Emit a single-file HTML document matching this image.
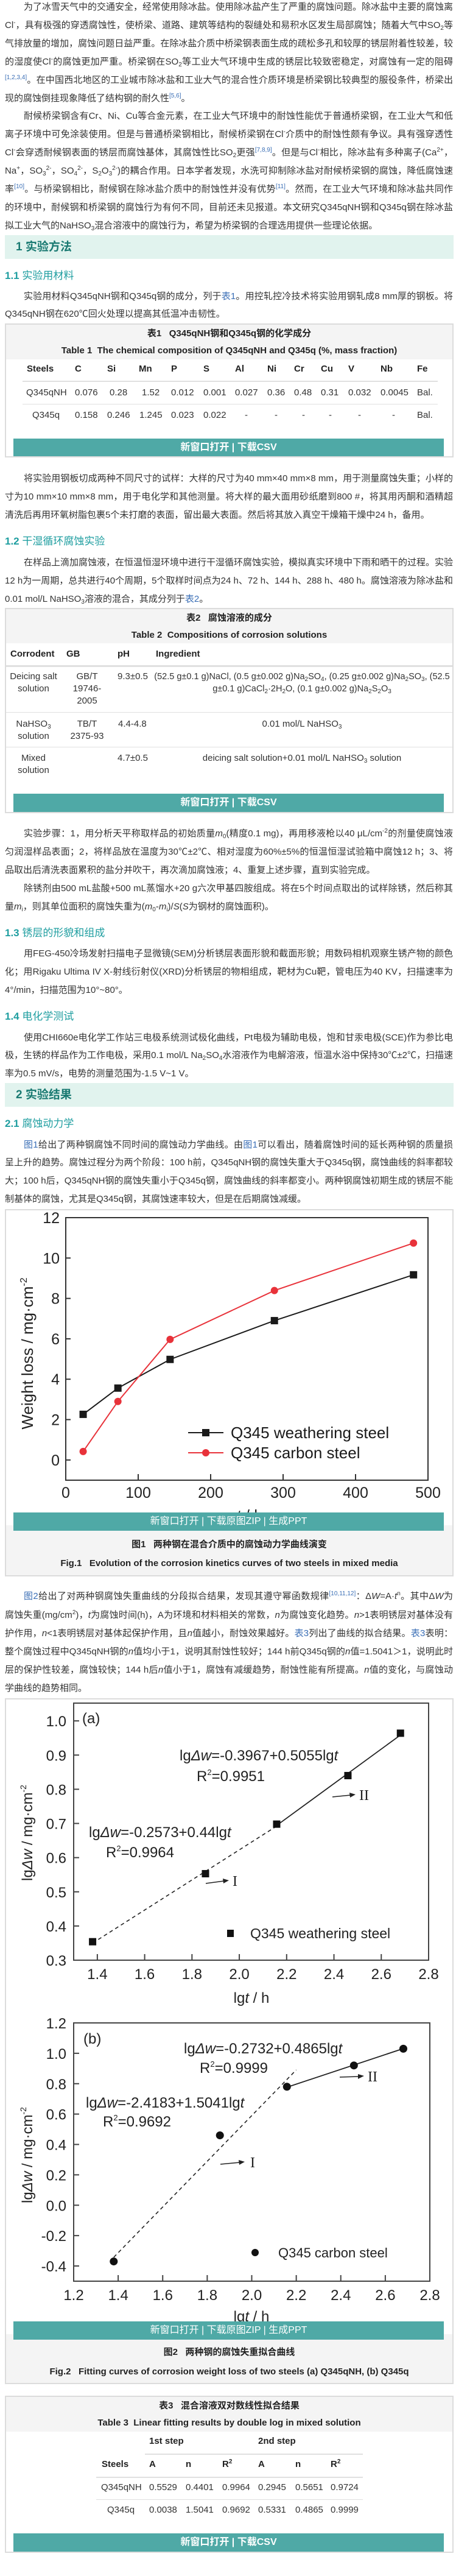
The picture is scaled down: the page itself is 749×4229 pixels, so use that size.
<!DOCTYPE html>
<html><head><meta charset="utf-8">
<style>
html,body{margin:0;padding:0;background:#fff;}
body{width:749px;height:4229px;position:relative;overflow:hidden;font-family:"Liberation Sans","Noto Sans CJK SC",sans-serif;color:#333;}
.ln{position:absolute;left:8px;width:736px;height:30px;line-height:30px;font-size:15px;overflow:hidden;text-align:justify;text-align-last:justify;white-space:normal;}
.ln.i{left:39px;width:705px;}
.ln.e{text-align-last:left;}
sup{font-size:10px;line-height:0;vertical-align:6px;}
sub{font-size:10px;line-height:0;vertical-align:-3px;}
a,.lk{color:#3b6fb6;text-decoration:none;}
.h2{position:absolute;left:8px;width:737px;height:39px;background:#e1f3ee;}
.h2 span{position:absolute;left:18px;top:0;line-height:39px;font-size:19px;font-weight:bold;color:#1a7a72;}
.h3{position:absolute;left:8px;height:26px;line-height:26px;font-size:17px;color:#1f9ea0;}
.h3 b{font-weight:bold;}
.box{position:absolute;left:8px;width:733px;border:2px solid #dcdcdc;background:#fff;}
.gray{position:absolute;left:0;width:733px;background:#f4f4f4;}
.cap{position:absolute;left:0;width:733px;text-align:center;font-size:15px;font-weight:bold;color:#222;line-height:20px;}
.btn{position:absolute;left:22px;width:707px;background:#4fa9a6;color:#fff;text-align:center;font-size:16px;z-index:3;}
.t{position:absolute;font-size:15px;line-height:20px;white-space:nowrap;color:#333;}
.th{position:absolute;font-size:15px;line-height:20px;white-space:nowrap;font-weight:bold;color:#222;}
.rule{position:absolute;height:2px;background:#e0e0e0;}
svg#charts{position:absolute;left:0;top:0;z-index:2;pointer-events:none;}
</style></head><body>

<!-- Paragraph 1 -->
<div>
<div class="ln i" style="top:-3px">为了冰雪天气中的交通安全，经常使用除冰盐。使用除冰盐产生了严重的腐蚀问题。除冰盐中主要的腐蚀离子</div>
<div class="ln" style="top:27px">Cl<sup>-</sup>，具有极强的穿透腐蚀性，使桥梁、道路、建筑等结构的裂缝处和易积水区发生局部腐蚀；随着大气中SO<sub>2</sub>等废</div>
<div class="ln" style="top:57px">气排放量的增加，腐蚀问题日益严重。在除冰盐介质中桥梁钢表面生成的疏松多孔和较厚的锈层附着性较差，较大</div>
<div class="ln" style="top:87px">的湿度使Cl<sup>-</sup>的腐蚀更加严重。桥梁钢在SO<sub>2</sub>等工业大气环境中生成的锈层比较致密稳定，对腐蚀有一定的阻碍</div>
<div class="ln" style="top:117px"><sup class="lk">[1,2,3,4]</sup>。在中国西北地区的工业城市除冰盐和工业大气的混合性介质环境是桥梁钢比较典型的服役条件，桥梁出</div>
<div class="ln e" style="top:147px">现的腐蚀倒挂现象降低了结构钢的耐久性<sup class="lk">[5,6]</sup>。</div>
</div>

<div>
<div class="ln i" style="top:176px">耐候桥梁钢含有Cr、Ni、Cu等合金元素，在工业大气环境中的耐蚀性能优于普通桥梁钢，在工业大气和低氯</div>
<div class="ln" style="top:206px">离子环境中可免涂装使用。但是与普通桥梁钢相比，耐候桥梁钢在Cl<sup>-</sup>介质中的耐蚀性颇有争议。具有强穿透性的</div>
<div class="ln" style="top:236px">Cl<sup>-</sup>会穿透耐候钢表面的锈层而腐蚀基体，其腐蚀性比SO<sub>2</sub>更强<sup class="lk">[7,8,9]</sup>。但是与Cl<sup>-</sup>相比，除冰盐有多种离子(Ca<sup>2+</sup>，</div>
<div class="ln" style="top:266px">Na<sup>+</sup>，SO<sub>3</sub><sup>2-</sup>，SO<sub>4</sub><sup>2-</sup>，S<sub>2</sub>O<sub>3</sub><sup>2-</sup>)的耦合作用。日本学者发现，水洗可抑制除冰盐对耐候桥梁钢的腐蚀，降低腐蚀速</div>
<div class="ln" style="top:296px">率<sup class="lk">[10]</sup>。与桥梁钢相比，耐候钢在除冰盐介质中的耐蚀性并没有优势<sup class="lk">[11]</sup>。然而，在工业大气环境和除冰盐共同作用</div>
<div class="ln" style="top:326px">的环境中，耐候钢和桥梁钢的腐蚀行为有何不同，目前还未见报道。本文研究Q345qNH钢和Q345q钢在除冰盐+模</div>
<div class="ln e" style="top:356px">拟工业大气的NaHSO<sub>3</sub>混合溶液中的腐蚀行为，希望为桥梁钢的合理选用提供一些理论依据。</div>
</div>

<div class="h2" style="top:386px"><span>1 实验方法</span></div>
<div class="h3" style="top:440px"><b>1.1</b> 实验用材料</div>

<div>
<div class="ln i" style="top:472px">实验用材料Q345qNH钢和Q345q钢的成分，列于<a href="#t1">表1</a>。用控轧控冷技术将实验用钢轧成8 mm厚的钢板。将</div>
<div class="ln e" style="top:501px">Q345qNH钢在620℃回火处理以提高其低温冲击韧性。</div>
</div>

<!-- Table 1 -->
<div class="box" id="t1" style="top:531px;height:216px">
  <div class="gray" style="top:0;height:57px"></div>
  <div class="cap" style="top:5px">表1&nbsp;&nbsp; Q345qNH钢和Q345q钢的化学成分</div>
  <div class="cap" style="top:33px">Table 1&nbsp; The chemical composition of Q345qNH and Q345q (%, mass fraction)</div>
  <div class="rule" style="left:27px;width:682px;top:92px"></div>
  <div class="rule" style="left:27px;width:682px;top:130px;height:1px"></div>
  <div class="btn" style="left:12px;top:187px;height:29px;line-height:29px;font-weight:bold">新窗口打开 | 下载CSV</div>
</div>
<div>
<span class="th" style="left:44px;top:596px">Steels</span><span class="th" style="left:123px;top:596px">C</span><span class="th" style="left:176px;top:596px">Si</span><span class="th" style="left:228px;top:596px">Mn</span><span class="th" style="left:281px;top:596px">P</span><span class="th" style="left:334px;top:596px">S</span><span class="th" style="left:386px;top:596px">Al</span><span class="th" style="left:439px;top:596px">Ni</span><span class="th" style="left:483px;top:596px">Cr</span><span class="th" style="left:527px;top:596px">Cu</span><span class="th" style="left:572px;top:596px">V</span><span class="th" style="left:625px;top:596px">Nb</span><span class="th" style="left:685px;top:596px">Fe</span>
<span class="t" style="left:43px;top:635px">Q345qNH</span><span class="t" style="left:123px;top:635px">0.076</span><span class="t" style="left:180px;top:635px">0.28</span><span class="t" style="left:233px;top:635px">1.52</span><span class="t" style="left:281px;top:635px">0.012</span><span class="t" style="left:334px;top:635px">0.001</span><span class="t" style="left:386px;top:635px">0.027</span><span class="t" style="left:439px;top:635px">0.36</span><span class="t" style="left:483px;top:635px">0.48</span><span class="t" style="left:527px;top:635px">0.31</span><span class="t" style="left:572px;top:635px">0.032</span><span class="t" style="left:625px;top:635px">0.0045</span><span class="t" style="left:685px;top:635px">Bal.</span>
<span class="t" style="left:53px;top:672px">Q345q</span><span class="t" style="left:123px;top:672px">0.158</span><span class="t" style="left:176px;top:672px">0.246</span><span class="t" style="left:229px;top:672px">1.245</span><span class="t" style="left:281px;top:672px">0.023</span><span class="t" style="left:334px;top:672px">0.022</span><span class="t" style="left:402px;top:672px">-</span><span class="t" style="left:451px;top:672px">-</span><span class="t" style="left:496px;top:672px">-</span><span class="t" style="left:540px;top:672px">-</span><span class="t" style="left:588px;top:672px">-</span><span class="t" style="left:644px;top:672px">-</span><span class="t" style="left:685px;top:672px">Bal.</span>
</div>

<div>
<div class="ln i" style="top:771px">将实验用钢板切成两种不同尺寸的试样：大样的尺寸为40 mm×40 mm×8 mm，用于测量腐蚀失重；小样的尺</div>
<div class="ln" style="top:801px">寸为10 mm×10 mm×8 mm，用于电化学和其他测量。将大样的最大面用砂纸磨到800 #，将其用丙酮和酒精超声</div>
<div class="ln e" style="top:831px">清洗后再用环氧树脂包裹5个未打磨的表面，留出最大表面。然后将其放入真空干燥箱干燥中24 h，备用。</div>
</div>
<div class="h3" style="top:876px"><b>1.2</b> 干湿循环腐蚀实验</div>
<div>
<div class="ln i" style="top:909px">在样品上滴加腐蚀液，在恒温恒湿环境中进行干湿循环腐蚀实验，模拟真实环境中下雨和晒干的过程。实验以</div>
<div class="ln" style="top:939px">12 h为一周期，总共进行40个周期，5个取样时间点为24 h、72 h、144 h、288 h、480 h。腐蚀溶液为除冰盐和</div>
<div class="ln e" style="top:969px">0.01 mol/L NaHSO<sub>3</sub>溶液的混合，其成分列于<a href="#t2">表2</a>。</div>
</div>

<!-- Table 2 -->
<div class="box" id="t2" style="top:998px;height:333px">
  <div class="gray" style="top:0;height:56px"></div>
  <div class="cap" style="top:5px">表2&nbsp;&nbsp; 腐蚀溶液的成分</div>
  <div class="cap" style="top:33px">Table 2&nbsp; Compositions of corrosion solutions</div>
  <div class="rule" style="left:0;width:733px;top:92px;height:3px"></div>
  <div class="rule" style="left:0;width:733px;top:169px;height:1px"></div>
  <div class="rule" style="left:0;width:733px;top:226px;height:1px"></div>
  <div class="btn" style="left:12px;top:303px;height:30px;line-height:30px;font-weight:bold">新窗口打开 | 下载CSV</div>
</div>
<div>
<span class="th" style="left:17px;top:1064px">Corrodent</span><span class="th" style="left:109px;top:1064px">GB</span><span class="th" style="left:193px;top:1064px">pH</span><span class="th" style="left:256px;top:1064px">Ingredient</span>
<div class="t" style="left:10px;width:90px;top:1101px;text-align:center">Deicing salt<br>solution</div>
<div class="t" style="left:113px;width:60px;top:1101px;text-align:center">GB/T<br>19746-<br>2005</div>
<span class="t" style="left:193px;top:1101px">9.3±0.5</span>
<div class="t" style="left:252px;width:488px;top:1101px;text-align:center;font-size:14.5px">(52.5 g±0.1 g)NaCl, (0.5 g±0.002 g)Na<sub>2</sub>SO<sub>4</sub>, (0.25 g±0.002 g)Na<sub>2</sub>SO<sub>3</sub>, (52.5<br>g±0.1 g)CaCl<sub>2</sub>·2H<sub>2</sub>O, (0.1 g±0.002 g)Na<sub>2</sub>S<sub>2</sub>O<sub>3</sub></div>
<div class="t" style="left:10px;width:90px;top:1179px;text-align:center">NaHSO<sub>3</sub><br>solution</div>
<div class="t" style="left:108px;width:70px;top:1179px;text-align:center">TB/T<br>2375-93</div>
<span class="t" style="left:194px;top:1179px">4.4-4.8</span>
<div class="t" style="left:252px;width:488px;top:1179px;text-align:center">0.01 mol/L NaHSO<sub>3</sub></div>
<div class="t" style="left:10px;width:90px;top:1235px;text-align:center">Mixed<br>solution</div>
<span class="t" style="left:193px;top:1235px">4.7±0.5</span>
<div class="t" style="left:252px;width:488px;top:1235px;text-align:center">deicing salt solution+0.01 mol/L NaHSO<sub>3</sub> solution</div>
</div>

<div>
<div class="ln i" style="top:1354px">实验步骤：1，用分析天平称取样品的初始质量<i>m</i><sub>0</sub>(精度0.1 mg)，再用移液枪以40 μL/cm<sup>-2</sup>的剂量使腐蚀液均</div>
<div class="ln" style="top:1384px">匀润湿样品表面；2，将样品放在温度为30℃±2℃、相对湿度为60%±5%的恒温恒湿试验箱中腐蚀12 h；3、将样</div>
<div class="ln e" style="top:1414px">品取出后清洗表面累积的盐分并吹干，再次滴加腐蚀液；4、重复上述步骤，直到实验完成。</div>
</div>
<div>
<div class="ln i" style="top:1444px">除锈剂由500 mL盐酸+500 mL蒸馏水+20 g六次甲基四胺组成。将在5个时间点取出的试样除锈，然后称其质</div>
<div class="ln e" style="top:1474px">量<i>m</i><sub>i</sub>，则其单位面积的腐蚀失重为(<i>m</i><sub>0</sub>-<i>m</i><sub>i</sub>)/<i>S</i>(<i>S</i>为钢材的腐蚀面积)。</div>
</div>
<div class="h3" style="top:1519px"><b>1.3</b> 锈层的形貌和组成</div>
<div>
<div class="ln i" style="top:1551px">用FEG-450冷场发射扫描电子显微镜(SEM)分析锈层表面形貌和截面形貌；用数码相机观察生锈产物的颜色变</div>
<div class="ln" style="top:1581px">化；用Rigaku Ultima IV X-射线衍射仪(XRD)分析锈层的物相组成，靶材为Cu靶，管电压为40 KV，扫描速率为</div>
<div class="ln e" style="top:1611px">4°/min，扫描范围为10°~80°。</div>
</div>
<div class="h3" style="top:1656px"><b>1.4</b> 电化学测试</div>
<div>
<div class="ln i" style="top:1689px">使用CHI660e电化学工作站三电极系统测试极化曲线，Pt电极为辅助电极，饱和甘汞电极(SCE)作为参比电</div>
<div class="ln" style="top:1718px">极，生锈的样品作为工作电极，采用0.1 mol/L Na<sub>2</sub>SO<sub>4</sub>水溶液作为电解溶液，恒温水浴中保持30℃±2℃，扫描速</div>
<div class="ln e" style="top:1748px">率为0.5 mV/s，电势的测量范围为-1.5 V~1 V。</div>
</div>
<div class="h2" style="top:1778px"><span>2 实验结果</span></div>
<div class="h3" style="top:1832px"><b>2.1</b> 腐蚀动力学</div>
<div>
<div class="ln i" style="top:1865px"><a href="#f1">图1</a>给出了两种钢腐蚀不同时间的腐蚀动力学曲线。由<a href="#f1">图1</a>可以看出，随着腐蚀时间的延长两种钢的质量损失均</div>
<div class="ln" style="top:1894px">呈上升的趋势。腐蚀过程分为两个阶段：100 h前，Q345qNH钢的腐蚀失重大于Q345q钢，腐蚀曲线的斜率都较</div>
<div class="ln" style="top:1924px">大；100 h后，Q345qNH钢的腐蚀失重小于Q345q钢，腐蚀曲线的斜率都变小。两种钢腐蚀初期生成的锈层不能抑</div>
<div class="ln e" style="top:1954px">制基体的腐蚀，尤其是Q345q钢，其腐蚀速率较大，但是在后期腐蚀减缓。</div>
</div>

<!-- Figure 1 box -->
<div class="box" id="f1" style="top:1985px;height:599px">
  <div class="gray" style="top:517px;height:82px"></div>
  <div class="btn" style="left:12px;top:496px;height:30px;line-height:30px">新窗口打开 | 下载原图ZIP | 生成PPT</div>
  <div class="cap" style="top:539px">图1&nbsp;&nbsp; 两种钢在混合介质中的腐蚀动力学曲线演变</div>
  <div class="cap" style="top:570px">Fig.1&nbsp;&nbsp; Evolution of the corrosion kinetics curves of two steels in mixed media</div>
</div>

<div>
<div class="ln i" style="top:2606px"><a href="#f2">图2</a>给出了对两种钢腐蚀失重曲线的分段拟合结果，发现其遵守幂函数规律<sup class="lk">[10,11,12]</sup>：Δ<i>W</i>=A·<i>t</i><sup>n</sup>。其中Δ<i>W</i>为</div>
<div class="ln" style="top:2637px">腐蚀失重(mg/cm<sup>2</sup>)，<i>t</i>为腐蚀时间(h)，A为环境和材料相关的常数，<i>n</i>为腐蚀变化趋势。<i>n</i>&gt;1表明锈层对基体没有保</div>
<div class="ln" style="top:2667px">护作用，<i>n</i>&lt;1表明锈层对基体起保护作用，且<i>n</i>值越小，耐蚀效果越好。<a href="#t3">表3</a>列出了曲线的拟合结果。<a href="#t3">表3</a>表明：在</div>
<div class="ln" style="top:2697px">整个腐蚀过程中Q345qNH钢的<i>n</i>值均小于1，说明其耐蚀性较好；144 h前Q345q钢的<i>n</i>值=1.5041＞1，说明此时锈</div>
<div class="ln" style="top:2727px">层的保护性较差，腐蚀较快；144 h后<i>n</i>值小于1，腐蚀有减缓趋势，耐蚀性能有所提高。<i>n</i>值的变化，与腐蚀动力</div>
<div class="ln e" style="top:2757px">学曲线的趋势相同。</div>
</div>

<!-- Figure 2 box -->
<div class="box" id="f2" style="top:2788px;height:1122px">
  <div class="gray" style="top:1042px;height:80px"></div>
  <div class="btn" style="left:12px;top:1021px;height:30px;line-height:30px">新窗口打开 | 下载原图ZIP | 生成PPT</div>
  <div class="cap" style="top:1062px">图2&nbsp;&nbsp; 两种钢的腐蚀失重拟合曲线</div>
  <div class="cap" style="top:1094px">Fig.2&nbsp;&nbsp; Fitting curves of corrosion weight loss of two steels (a) Q345qNH, (b) Q345q</div>
</div>

<!-- Table 3 -->
<div class="box" id="t3" style="top:3933px;height:254px">
  <div class="gray" style="top:0;height:57px"></div>
  <div class="cap" style="top:5px">表3&nbsp;&nbsp; 混合溶液双对数线性拟合结果</div>
  <div class="cap" style="top:33px">Table 3&nbsp; Linear fitting results by double log in mixed solution</div>
  <div class="rule" style="left:228px;width:358px;top:93px"></div>
  <div class="rule" style="left:148px;width:438px;top:131px"></div>
  <div class="rule" style="left:148px;width:438px;top:168px;height:1px"></div>
  <div class="btn" style="left:12px;top:224px;height:30px;line-height:30px;font-weight:bold">新窗口打开 | 下载CSV</div>
</div>
<div>
<span class="th" style="left:245px;top:3998px">1st step</span><span class="th" style="left:424px;top:3998px">2nd step</span>
<span class="th" style="left:167px;top:4036px">Steels</span><span class="th" style="left:245px;top:4036px">A</span><span class="th" style="left:305px;top:4036px">n</span><span class="th" style="left:365px;top:4036px">R<sup>2</sup></span><span class="th" style="left:424px;top:4036px">A</span><span class="th" style="left:485px;top:4036px">n</span><span class="th" style="left:543px;top:4036px">R<sup>2</sup></span>
<span class="t" style="left:166px;top:4074px">Q345qNH</span><span class="t" style="left:245px;top:4074px">0.5529</span><span class="t" style="left:305px;top:4074px">0.4401</span><span class="t" style="left:365px;top:4074px">0.9964</span><span class="t" style="left:424px;top:4074px">0.2945</span><span class="t" style="left:485px;top:4074px">0.5651</span><span class="t" style="left:543px;top:4074px">0.9724</span>
<span class="t" style="left:176px;top:4111px">Q345q</span><span class="t" style="left:245px;top:4111px">0.0038</span><span class="t" style="left:305px;top:4111px">1.5041</span><span class="t" style="left:365px;top:4111px">0.9692</span><span class="t" style="left:424px;top:4111px">0.5331</span><span class="t" style="left:485px;top:4111px">0.4865</span><span class="t" style="left:543px;top:4111px">0.9999</span>
</div>

<svg id="charts" width="749" height="4229" viewBox="0 0 749 4229" font-family="Liberation Sans, Arial, sans-serif">
  <!-- Figure 1 static labels -->
  <text x="45" y="2222" font-size="26" fill="#222" text-anchor="middle" transform="rotate(-90 45 2222)" dy="9">Weight loss / mg·cm<tspan font-size="16" dy="-10">-2</tspan></text>
  <text x="410" y="2497" font-size="26" fill="#222" text-anchor="middle"><tspan font-style="italic">t</tspan> / h</text>
  <g>
    <line x1="309" y1="2352" x2="367" y2="2352" stroke="#1a1a1a" stroke-width="2"/>
    <rect x="332" y="2346" width="12" height="12" fill="#1a1a1a"/>
    <text x="379" y="2361" font-size="26" fill="#1a1a1a">Q345 weathering steel</text>
    <line x1="309" y1="2385" x2="367" y2="2385" stroke="#e8323a" stroke-width="2"/>
    <circle cx="338" cy="2385" r="6" fill="#e8323a"/>
    <text x="379" y="2394" font-size="26" fill="#1a1a1a">Q345 carbon steel</text>
  </g>
  <!-- Figure 2a static -->
  <g font-size="24" fill="#222">
    <text x="135" y="2829">(a)</text>
    <text x="295" y="2890">lg<tspan font-style="italic">Δw</tspan>=-0.3967+0.5055lg<tspan font-style="italic">t</tspan></text>
    <text x="323" y="2924">R<tspan font-size="13" dy="-10">2</tspan><tspan dy="10">=0.9951</tspan></text>
    <text x="146" y="3016">lg<tspan font-style="italic">Δw</tspan>=-0.2573+0.44lg<tspan font-style="italic">t</tspan></text>
    <text x="174" y="3049">R<tspan font-size="13" dy="-10">2</tspan><tspan dy="10">=0.9964</tspan></text>
    <line x1="546" y1="2950" x2="576" y2="2947" stroke="#222" stroke-width="1.5"/><polygon points="584,2946 574,2943 575,2951" fill="#222"/>
    <text x="590" y="2955" font-family="Liberation Serif, serif">II</text>
    <line x1="338" y1="3092" x2="368" y2="3088" stroke="#222" stroke-width="1.5"/><polygon points="376,3087 366,3084 367,3092" fill="#222"/>
    <text x="382" y="3096" font-family="Liberation Serif, serif">I</text>
    <rect x="373" y="3168" width="11" height="12" fill="#111"/>
    <text x="411" y="3182" font-size="23">Q345 weathering steel</text>
    <text x="45" y="3009" text-anchor="middle" dy="8" transform="rotate(-90 45 3009)">lg<tspan font-style="italic">Δw</tspan> / mg·cm<tspan font-size="14" dy="-10">-2</tspan></text>
    <text x="413" y="3288" text-anchor="middle">lg<tspan font-style="italic">t</tspan> / h</text>
  </g>
  <!-- Figure 2b static -->
  <g font-size="24" fill="#222">
    <text x="137" y="3355">(b)</text>
    <text x="302" y="3371">lg<tspan font-style="italic">Δw</tspan>=-0.2732+0.4865lg<tspan font-style="italic">t</tspan></text>
    <text x="328" y="3403">R<tspan font-size="13" dy="-10">2</tspan><tspan dy="10">=0.9999</tspan></text>
    <text x="141" y="3460">lg<tspan font-style="italic">Δw</tspan>=-2.4183+1.5041lg<tspan font-style="italic">t</tspan></text>
    <text x="169" y="3491">R<tspan font-size="13" dy="-10">2</tspan><tspan dy="10">=0.9692</tspan></text>
    <line x1="558" y1="3410" x2="590" y2="3409" stroke="#222" stroke-width="1.5"/><polygon points="598,3408 588,3405 588,3413" fill="#222"/>
    <text x="604" y="3417" font-family="Liberation Serif, serif">II</text>
    <line x1="362" y1="3553" x2="394" y2="3550" stroke="#222" stroke-width="1.5"/><polygon points="402,3549 392,3546 393,3554" fill="#222"/>
    <text x="411" y="3558" font-family="Liberation Serif, serif">I</text>
    <circle cx="419" cy="3698" r="6" fill="#111"/>
    <text x="457" y="3706" font-size="22">Q345 carbon steel</text>
    <text x="45" y="3538" text-anchor="middle" dy="8" transform="rotate(-90 45 3538)">lg<tspan font-style="italic">Δw</tspan> / mg·cm<tspan font-size="14" dy="-10">-2</tspan></text>
    <text x="413" y="3811" text-anchor="middle">lg<tspan font-style="italic">t</tspan> / h</text>
  </g>
</svg>

<script>
// ---- Figure 1 data ----
const f1Times = [24, 72, 144, 288, 480];
const f1Weathering = [2.26, 3.56, 4.98, 6.9, 9.17];
const f1Carbon = [0.42, 2.9, 5.97, 8.39, 10.74];
const f1YTicks = [0, 2, 4, 6, 8, 10, 12];
const f1XTicks = [0, 100, 200, 300, 400, 500];
// ---- Figure 2 data ----
const f2LgT = [1.380, 1.857, 2.158, 2.459, 2.681];
const f2aLgW = [0.354, 0.553, 0.698, 0.840, 0.964];
const f2bLgW = [-0.37, 0.46, 0.78, 0.92, 1.03];
const f2aFit1 = [-0.2573, 0.44];
const f2aFit2 = [-0.3967, 0.5055];
const f2bFit1 = [-2.4183, 1.5041];
const f2bFit2 = [-0.2732, 0.4865];
const f2bFit1End = 2.2;
const f2aYTicks = [0.3, 0.4, 0.5, 0.6, 0.7, 0.8, 0.9, 1.0];
const f2aXTicks = [1.4, 1.6, 1.8, 2.0, 2.2, 2.4, 2.6, 2.8];
const f2bYTicks = [-0.4, -0.2, 0.0, 0.2, 0.4, 0.6, 0.8, 1.0, 1.2];
const f2bXTicks = [1.2, 1.4, 1.6, 1.8, 2.0, 2.2, 2.4, 2.6, 2.8];

const NS = 'http://www.w3.org/2000/svg';
const svg = document.getElementById('charts');
function mk(tag, attrs, txt) {
  const e = document.createElementNS(NS, tag);
  for (const k in attrs) e.setAttribute(k, attrs[k]);
  if (txt !== undefined) e.textContent = txt;
  svg.appendChild(e);
  return e;
}

// Figure 1 axes
const f1X0 = 108, f1X1 = 703, f1XMin = 0, f1XMax = 500;
const f1Y0 = 2430, f1Y1 = 1999, f1YMin = -1, f1YMax = 12;
const f1x = v => f1X0 + (v - f1XMin) / (f1XMax - f1XMin) * (f1X1 - f1X0);
const f1y = v => f1Y0 - (v - f1YMin) / (f1YMax - f1YMin) * (f1Y0 - f1Y1);

let fr = mk('rect', {x: f1X0, y: f1Y1, width: f1X1 - f1X0, height: f1Y0 - f1Y1, fill: 'none', stroke: '#333', 'stroke-width': 2});


f1YTicks.forEach(v => {
  if (v < f1YMax) {
    const t = mk('line', {x1: f1X0, x2: f1X0 + 8, y1: f1y(v), y2: f1y(v), stroke: '#333', 'stroke-width': 2});
    
    
  }
  const l = mk('text', {x: f1X0 - 10, y: f1y(v) + 9, 'font-size': 25, 'text-anchor': 'end', fill: '#222'}, String(v));
  
  
});
f1XTicks.forEach(v => {
  if (v > f1XMin && v < f1XMax) {
    const t = mk('line', {x1: f1x(v), x2: f1x(v), y1: f1Y0, y2: f1Y0 - 10, stroke: '#333', 'stroke-width': 2});
    
    
  }
  const l = mk('text', {x: f1x(v), y: f1Y0 + 29, 'font-size': 25, 'text-anchor': 'middle', fill: '#222'}, String(v));
  
  
});
function f1Series(vals, color, kind, name) {
  const pts = f1Times.map((t, i) => f1x(t) + ',' + f1y(vals[i])).join(' ');
  const pl = mk('polyline', {points: pts, fill: 'none', stroke: color, 'stroke-width': 2});
  
  
  f1Times.forEach((t, i) => {
    let m;
    if (kind === 'square') m = mk('rect', {x: f1x(t) - 6, y: f1y(vals[i]) - 6, width: 12, height: 12, fill: color});
    else m = mk('circle', {cx: f1x(t), cy: f1y(vals[i]), r: 6, fill: color});
    
    
  });
}
f1Series(f1Weathering, '#1a1a1a', 'square', 'weathering-steel');
f1Series(f1Carbon, '#e8323a', 'circle', 'carbon-steel');

// Figure 2 panels
function panel(cfg) {
  const px = v => cfg.x0 + (v - cfg.xMin) / (cfg.xMax - cfg.xMin) * (cfg.x1 - cfg.x0);
  const py = v => cfg.y0 - (v - cfg.yMin) / (cfg.yMax - cfg.yMin) * (cfg.y0 - cfg.y1);
  const f = mk('rect', {x: cfg.x0, y: cfg.y1, width: cfg.x1 - cfg.x0, height: cfg.y0 - cfg.y1, fill: 'none', stroke: '#444', 'stroke-width': 2});
  
  
  cfg.yTicks.forEach(v => {
    const yy = py(v);
    if (Math.abs(yy - cfg.y1) > 2 && Math.abs(yy - cfg.y0) > 2) {
      const t = mk('line', {x1: cfg.x0, x2: cfg.x0 + 9, y1: yy, y2: yy, stroke: '#444', 'stroke-width': 2});
      
      
    }
    const l = mk('text', {x: cfg.x0 - 12, y: yy + 9, 'font-size': 24, 'text-anchor': 'end', fill: '#222'}, v.toFixed(1));
    
    
  });
  cfg.xTicks.forEach(v => {
    const xx = px(v);
    if (Math.abs(xx - cfg.x0) > 2 && Math.abs(xx - cfg.x1) > 2) {
      const t = mk('line', {x1: xx, x2: xx, y1: cfg.y0, y2: cfg.y0 - 10, stroke: '#444', 'stroke-width': 2});
      
      
    }
    const l = mk('text', {x: xx, y: cfg.y0 + 31, 'font-size': 24, 'text-anchor': 'middle', fill: '#222'}, v.toFixed(1));
    
    
  });
  const fa = cfg.fit1, fb = cfg.fit2;
  const d = mk('line', {x1: px(cfg.lgt[0]), y1: py(fa[0] + fa[1] * cfg.lgt[0]), x2: px(cfg.fit1End), y2: py(fa[0] + fa[1] * cfg.fit1End), stroke: '#222', 'stroke-width': 1.6, 'stroke-dasharray': '6,5'});
  
  
  const s = mk('line', {x1: px(cfg.lgt[2]), y1: py(fb[0] + fb[1] * cfg.lgt[2]), x2: px(cfg.lgt[4]), y2: py(fb[0] + fb[1] * cfg.lgt[4]), stroke: '#222', 'stroke-width': 1.8});
  
  
  cfg.lgt.forEach((t, i) => {
    let m;
    if (cfg.marker === 'square') m = mk('rect', {x: px(t) - 6, y: py(cfg.vals[i]) - 6, width: 12, height: 12, fill: '#111'});
    else m = mk('circle', {cx: px(t), cy: py(cfg.vals[i]), r: 6.5, fill: '#111'});
    
    
  });
}
panel({name: 'figure-2a', x0: 121, x1: 704, xMin: 1.3, xMax: 2.8, y0: 3218, y1: 2796, yMin: 0.3, yMax: 1.052,
  yTicks: f2aYTicks, xTicks: f2aXTicks, lgt: f2LgT, vals: f2aLgW, fit1: f2aFit1, fit2: f2aFit2, fit1End: f2LgT[2], marker: 'square'});
panel({name: 'figure-2b', x0: 121, x1: 706, xMin: 1.2, xMax: 2.8, y0: 3745, y1: 3321, yMin: -0.5, yMax: 1.2,
  yTicks: f2bYTicks, xTicks: f2bXTicks, lgt: f2LgT, vals: f2bLgW, fit1: f2bFit1, fit2: f2bFit2, fit1End: f2bFit1End, marker: 'circle'});
</script>
</body></html>
